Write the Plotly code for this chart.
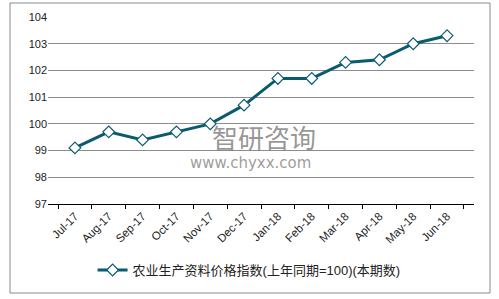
import plotly.graph_objects as go

categories = ["Jul-17", "Aug-17", "Sep-17", "Oct-17", "Nov-17", "Dec-17",
              "Jan-18", "Feb-18", "Mar-18", "Apr-18", "May-18", "Jun-18"]
values = [99.1, 99.7, 99.4, 99.7, 100.0, 100.7, 101.7, 101.7, 102.3, 102.4, 103.0, 103.3]
series_name = "农业生产资料价格指数(上年同期=100)(本期数)"
y_ticks = [97, 98, 99, 100, 101, 102, 103, 104]

LINE = "#0B5B70"
FONT = "Liberation Sans, Arial, Noto Sans CJK SC, sans-serif"

fig = go.Figure()
fig.add_trace(go.Scatter(
    x=categories, y=values, name=series_name, mode="lines+markers",
    line=dict(color=LINE, width=3),
    marker=dict(symbol="diamond", size=9, color="white",
                line=dict(color=LINE, width=1.2)),
))

fig.update_layout(
    width=499, height=299,
    margin=dict(l=48, r=25, t=17, b=95),
    paper_bgcolor="white", plot_bgcolor="white",
    font=dict(family=FONT, size=10, color="#222"),
    showlegend=True,
    legend=dict(orientation="h", x=0.472, xanchor="center", y=-0.353, yanchor="middle",
                font=dict(size=13, color="#222"), itemwidth=30),
    xaxis=dict(type="category", tickangle=-45, showgrid=False,
               showline=True, linecolor="black", linewidth=1,
               ticks="outside", tickson="boundaries", ticklen=4, tickcolor="black",
               tickfont=dict(size=11.5, color="#222")),
    yaxis=dict(range=[97, 104], tickvals=y_ticks, showgrid=True, gridcolor="#8c8c8c",
               gridwidth=1, zeroline=False, showline=False, ticks="",
               tickfont=dict(size=11, color="#222")),
    shapes=[dict(type="rect", xref="paper", yref="paper",
                 x0=-0.0892, x1=1.0376, y0=-0.476, y1=1.0749,
                 line=dict(color="#8a8a8a", width=1), fillcolor="rgba(0,0,0,0)")],
    annotations=[
        dict(text="智研咨询", xref="paper", yref="paper", x=(264 - 48) / 426, y=(204 - 136) / 187,
             yanchor="middle", showarrow=False,
             font=dict(size=26, color="rgba(125,122,120,0.8)", family="Noto Sans CJK SC")),
        dict(text="www.chyxx.com", xref="paper", yref="paper", x=(250 - 48) / 426, y=(204 - 163) / 187,
             yanchor="middle", showarrow=False,
             font=dict(size=15, color="rgba(125,122,120,0.75)", family="DejaVu Sans")),
    ],
)

fig.write_html("out.html")
